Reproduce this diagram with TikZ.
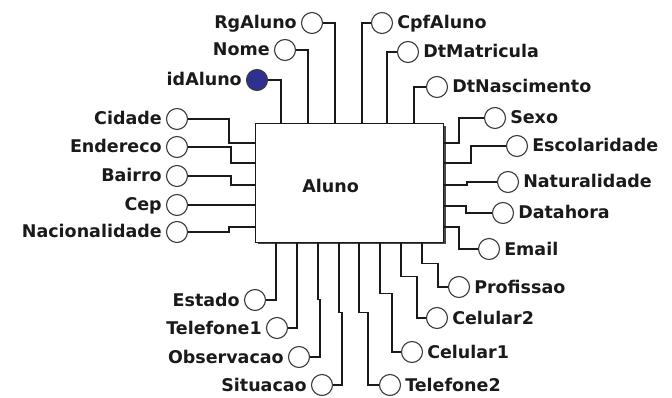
\documentclass[tikz,border=0pt]{standalone}
\usepackage{fontspec}
\setmainfont{DejaVu Sans}
\definecolor{keyblue}{HTML}{2F3190}
\definecolor{ink}{HTML}{1A1A1A}
\begin{document}
\begin{tikzpicture}[x=1pt,y=-1pt,
  attr/.style={circle, draw=ink!85, line width=1.1pt, minimum size=21pt, inner sep=0pt, fill=white},
  keyattr/.style={attr, fill=keyblue},
  lbl/.style={font=\fontsize{17.5}{20}\selectfont\bfseries, text=ink, inner sep=0pt},
  lblL/.style={lbl, anchor=base east},
  lblR/.style={lbl, anchor=base west},
  link/.style={line width=1.2pt, draw=ink},
  entity/.style={draw=ink, line width=1.3pt, fill=white, minimum width=188pt, minimum height=119pt, inner sep=0pt, anchor=north west}]
\useasboundingbox (0,0) rectangle (672,398);

% entity box with its shadow
\fill[ink!80] (258,126) rectangle (445.5,244.5);
\node[entity] (box) at (255,123) {};
\node[lbl] (title) at ([xshift=-19pt,yshift=-3pt]box.center) {Aluno};

% attribute circles
\node[attr] (rg) at (312,23) {};
\node[attr] (nome) at (285,50) {};
\node[keyattr] (id) at (257,80) {};
\node[attr] (cpf) at (382,23) {};
\node[attr] (dtm) at (408,52) {};
\node[attr] (dtn) at (437,87) {};

\node[attr] (cid) at (177,119) {};
\node[attr] (end) at (177,147) {};
\node[attr] (bai) at (177,176) {};
\node[attr] (cep) at (177,205) {};
\node[attr] (nac) at (177,232) {};

\node[attr] (sx) at (495,118) {};
\node[attr] (esc) at (517,146) {};
\node[attr] (nat) at (508,182) {};
\node[attr] (dat) at (503,213) {};
\node[attr] (em) at (489,249) {};

\node[attr] (est) at (255,300) {};
\node[attr] (tel1) at (277,328) {};
\node[attr] (obs) at (299,357) {};
\node[attr] (sit) at (322,385) {};
\node[attr] (tel2) at (390,385) {};
\node[attr] (cel1) at (412,352) {};
\node[attr] (cel2) at (437,318) {};
\node[attr] (prof) at (459,287) {};

% labels on the left of their circles
\node[lblL] (l-rg) at ([xshift=-4pt,yshift=-6pt]rg.west) {RgAluno};
\node[lblL] (l-nome) at ([xshift=-4pt,yshift=-6pt]nome.west) {Nome};
\node[lblL] (l-id) at ([xshift=-4pt,yshift=-6pt]id.west) {idAluno};
\node[lblL] (l-cid) at ([xshift=-4pt,yshift=-6pt]cid.west) {Cidade};
\node[lblL] (l-end) at ([xshift=-4pt,yshift=-6pt]end.west) {Endereco};
\node[lblL] (l-bai) at ([xshift=-4pt,yshift=-6pt]bai.west) {Bairro};
\node[lblL] (l-cep) at ([xshift=-4pt,yshift=-6pt]cep.west) {Cep};
\node[lblL] (l-nac) at ([xshift=-4pt,yshift=-6pt]nac.west) {Nacionalidade};
\node[lblL] (l-est) at ([xshift=-4pt,yshift=-6pt]est.west) {Estado};
\node[lblL] (l-tel1) at ([xshift=-4pt,yshift=-6pt]tel1.west) {Telefone1};
\node[lblL] (l-obs) at ([xshift=-4pt,yshift=-6pt]obs.west) {Observacao};
\node[lblL] (l-sit) at ([xshift=-4pt,yshift=-6pt]sit.west) {Situacao};

% labels on the right of their circles
\node[lblR] (l-cpf) at ([xshift=4pt,yshift=-6pt]cpf.east) {CpfAluno};
\node[lblR] (l-dtm) at ([xshift=4pt,yshift=-6pt]dtm.east) {DtMatricula};
\node[lblR] (l-dtn) at ([xshift=4pt,yshift=-6pt]dtn.east) {DtNascimento};
\node[lblR] (l-sx) at ([xshift=4pt,yshift=-6pt]sx.east) {Sexo};
\node[lblR] (l-esc) at ([xshift=4pt,yshift=-6pt]esc.east) {Escolaridade};
\node[lblR] (l-nat) at ([xshift=4pt,yshift=-6pt]nat.east) {Naturalidade};
\node[lblR] (l-dat) at ([xshift=4pt,yshift=-6pt]dat.east) {Datahora};
\node[lblR] (l-em) at ([xshift=4pt,yshift=-6pt]em.east) {Email};
\node[lblR] (l-prof) at ([xshift=4pt,yshift=-6pt]prof.east) {Profissao};
\node[lblR] (l-cel2) at ([xshift=4pt,yshift=-6pt]cel2.east) {Celular2};
\node[lblR] (l-cel1) at ([xshift=4pt,yshift=-6pt]cel1.east) {Celular1};
\node[lblR] (l-tel2) at ([xshift=4pt,yshift=-6pt]tel2.east) {Telefone2};

% top connectors
\draw[link] (id.east) -| ([xshift=26pt]box.north west);
\draw[link] (nome.east) -| ([xshift=53pt]box.north west);
\draw[link] (rg.east) -| ([xshift=80pt]box.north west);
\draw[link] (cpf.west) -| ([xshift=107pt]box.north west);
\draw[link] (dtm.west) -| ([xshift=132pt]box.north west);
\draw[link] (dtn.west) -| ([xshift=159pt]box.north west);

% left connectors
\draw[link] (cid.east) -- ++(41,0) |- ([yshift=-20pt]box.north west);
\draw[link] (end.east) -- ++(43,0) |- ([yshift=-40pt]box.north west);
\draw[link] (bai.east) -- ++(43,0) |- ([yshift=-62pt]box.north west);
\draw[link] (cep.east) -- (cep.east -| box.west);
\draw[link] (nac.east) -- ++(41,0) |- ([yshift=-104pt]box.north west);

% right connectors
\draw[link] ([yshift=-20pt]box.north east) -| ([xshift=-25pt]sx.west) -- (sx.west);
\draw[link] ([yshift=-40pt]box.north east) -| ([xshift=-35pt]esc.west) -- (esc.west);
\draw[link] ([yshift=-62pt]box.north east) -| ([xshift=-30pt]nat.west) -- (nat.west);
\draw[link] ([yshift=-83pt]box.north east) -| ([xshift=-26pt]dat.west) -- (dat.west);
\draw[link] ([yshift=-104pt]box.north east) -| ([xshift=-19pt]em.west) -- (em.west);

% bottom connectors
\draw[link] ([xshift=21pt]box.south west) |- (est.east);
\draw[link] ([xshift=42pt]box.south west) |- (tel1.east);
\draw[link] ([xshift=63pt]box.south west) -- ++(0,56) -- ++(2,0) |- (obs.east);
\draw[link] ([xshift=84pt]box.south west) -- ++(0,69) -- ++(3,0) |- (sit.east);
\draw[link] ([xshift=104pt]box.south west) -- ++(0,69) -- ++(9,0) |- (tel2.west);
\draw[link] ([xshift=125pt]box.south west) -- ++(0,50) -- ++(12,0) |- (cel1.west);
\draw[link] ([xshift=146pt]box.south west) -- ++(0,33) -- ++(16,0) |- (cel2.west);
\draw[link] ([xshift=167pt]box.south west) -- ++(0,20) -- ++(16,0) |- (prof.west);
\end{tikzpicture}
\end{document}
